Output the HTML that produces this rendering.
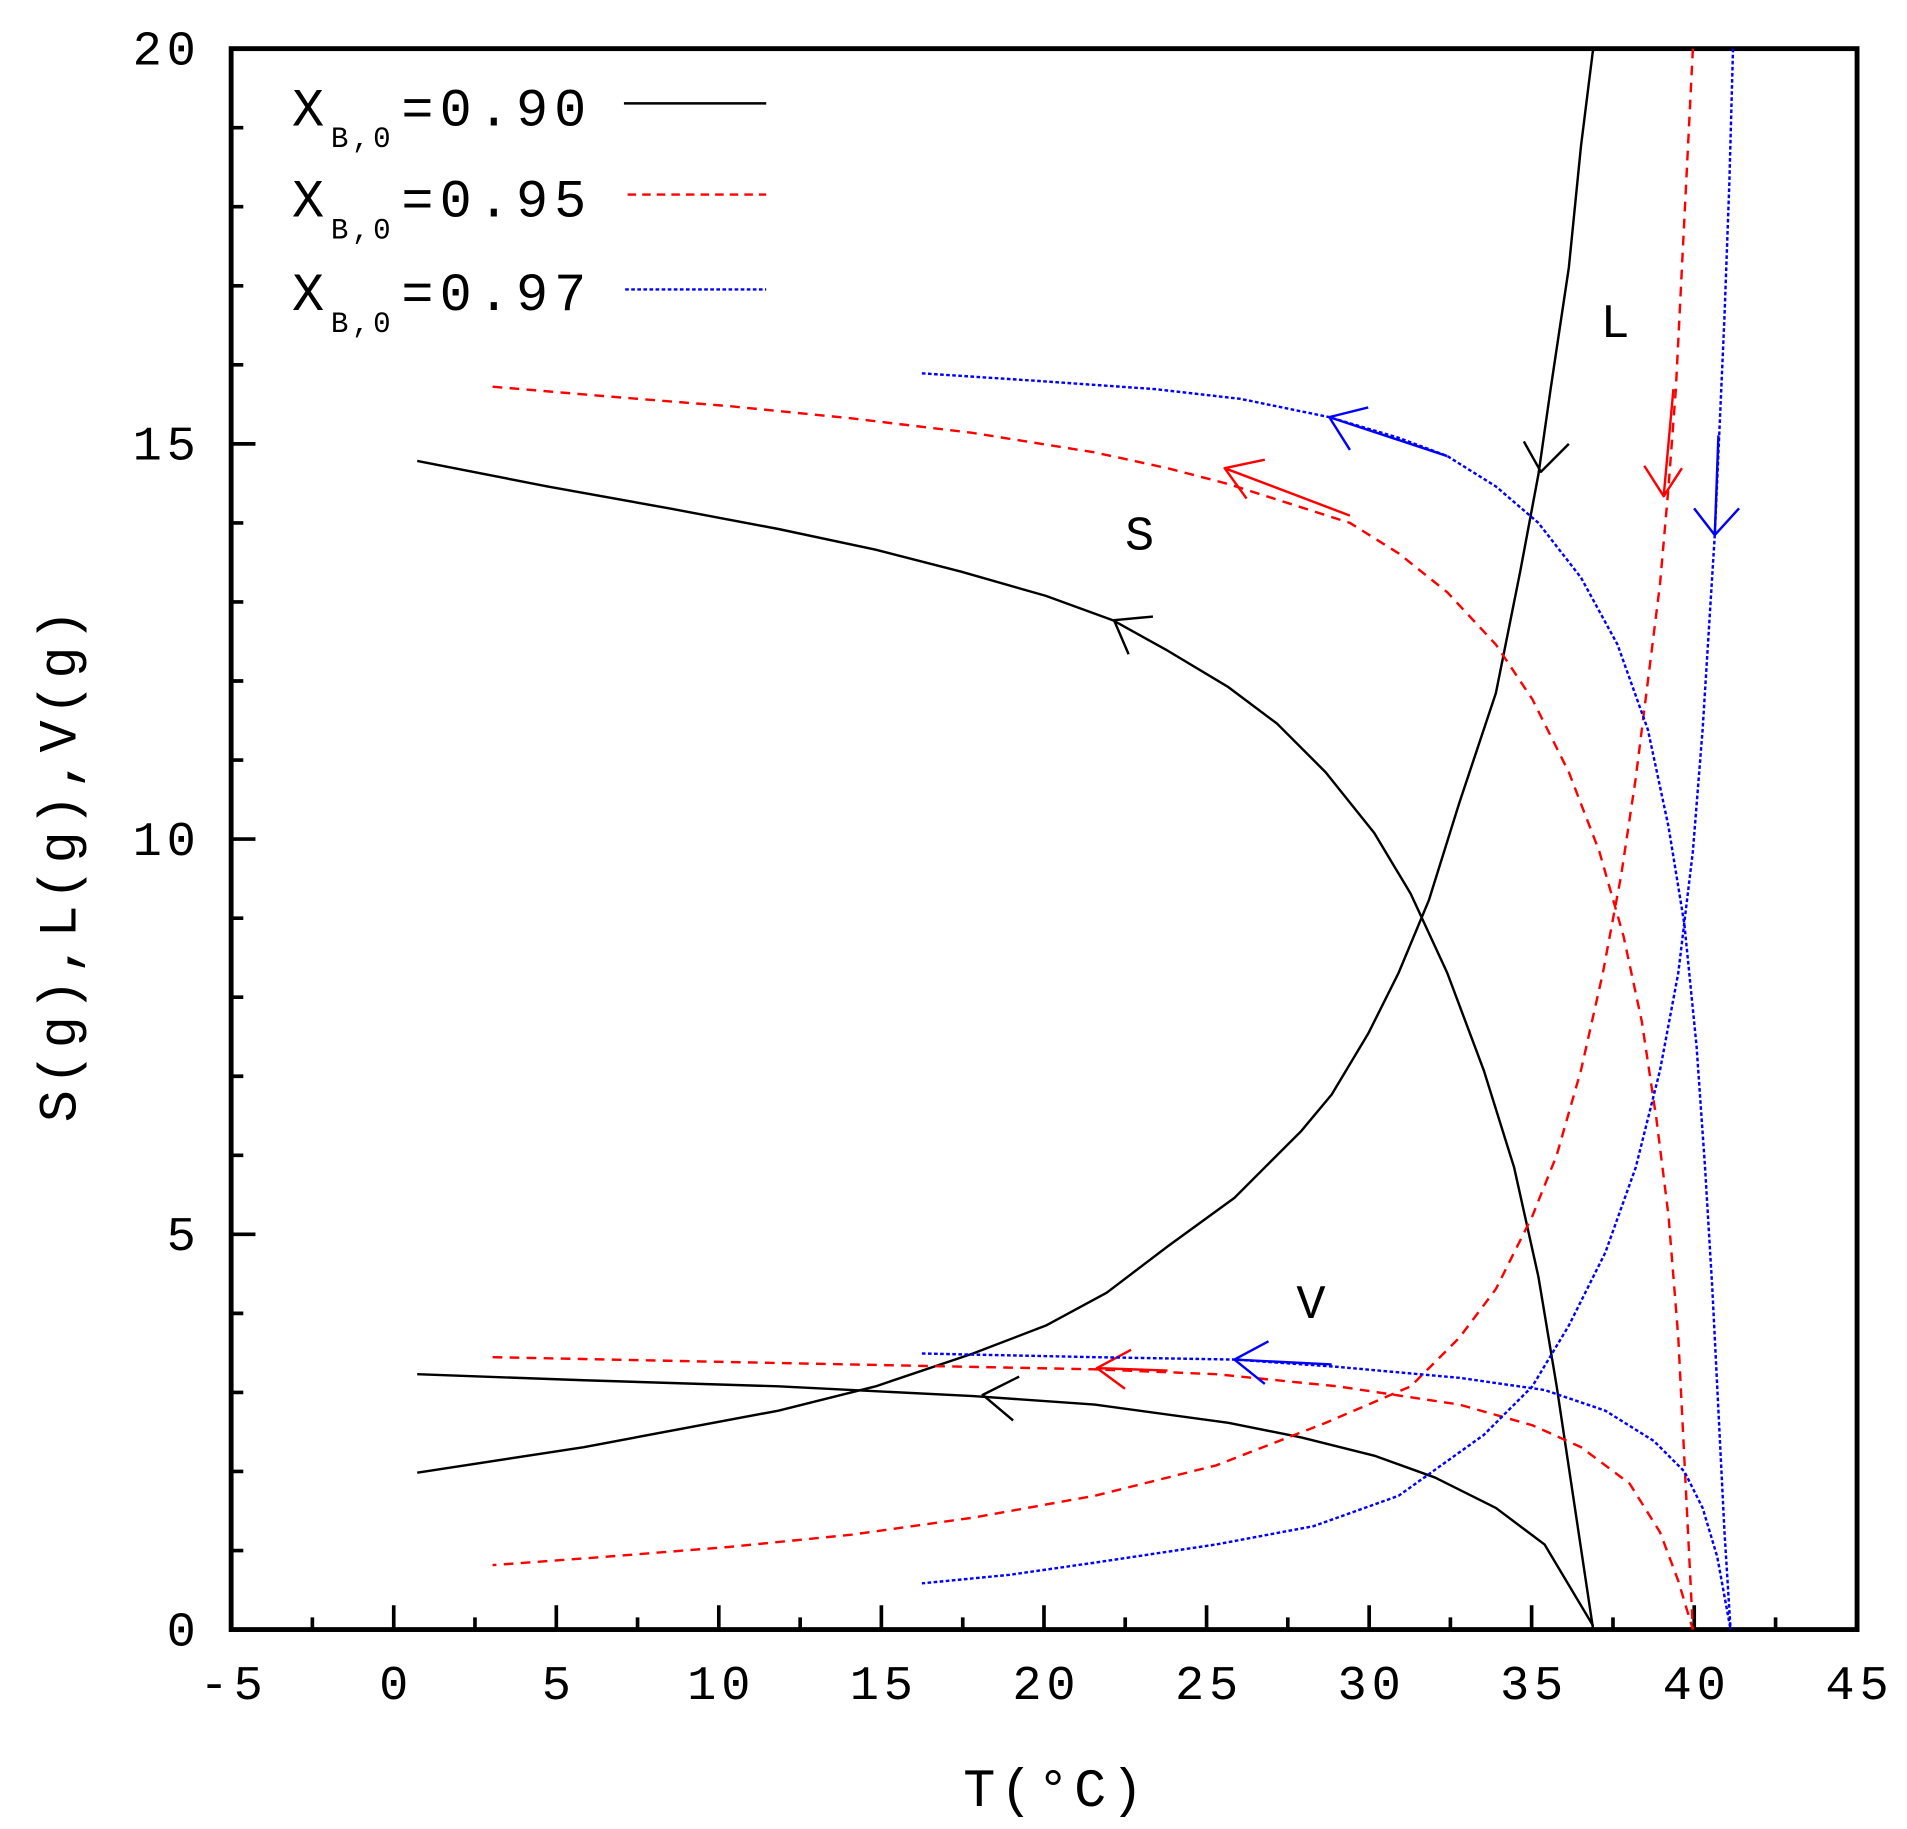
<!DOCTYPE html>
<html><head><meta charset="utf-8"><style>html,body{margin:0;padding:0;background:#fff}svg{display:block}</style></head>
<body>
<svg width="1907" height="1829" viewBox="0 0 1568 1504" xmlns="http://www.w3.org/2000/svg" font-family="Liberation Mono, monospace">
<rect width="1568" height="1504" fill="#fff"/>
<rect x="190" y="40" width="1337" height="1300" fill="none" stroke="#000" stroke-width="4"/>
<g stroke="#000" stroke-width="3">
<path d="M256.8 1340v-10M323.7 1340v-20M390.5 1340v-10M457.4 1340v-20M524.2 1340v-10M591 1340v-20M657.9 1340v-10M724.7 1340v-20M791.6 1340v-10M858.4 1340v-20M925.2 1340v-10M992.1 1340v-20M1058.9 1340v-10M1125.8 1340v-20M1192.6 1340v-10M1259.4 1340v-20M1326.3 1340v-10M1393.1 1340v-20M1460 1340v-10"/>
<path d="M190 1275h10M190 1210h10M190 1145h10M190 1080h10M190 1015h20M190 950h10M190 885h10M190 820h10M190 755h10M190 690h20M190 625h10M190 560h10M190 495h10M190 430h10M190 365h20M190 300h10M190 235h10M190 170h10M190 105h10"/>
</g>
<g font-size="40" fill="#000" letter-spacing="4">
<g text-anchor="middle">
<text x="192" y="1397">-5</text><text x="325.7" y="1397">0</text><text x="459.4" y="1397">5</text><text x="593" y="1397">10</text><text x="726.7" y="1397">15</text><text x="860.4" y="1397">20</text><text x="994.1" y="1397">25</text><text x="1127.8" y="1397">30</text><text x="1261.4" y="1397">35</text><text x="1395.1" y="1397">40</text><text x="1529" y="1397">45</text>
</g>
<g text-anchor="end">
<text x="165" y="1353">0</text><text x="165" y="1028">5</text><text x="165" y="703">10</text><text x="165" y="378">15</text><text x="165" y="53">20</text>
</g>
<text x="868" y="1485" text-anchor="middle" font-size="44">T(°C)</text>
<text transform="translate(62,710) rotate(-90)" text-anchor="middle" font-size="44">S(g),L(g),V(g)</text>
<text x="925" y="452">S</text><text x="1316" y="277">L</text><text x="1066" y="1084">V</text>
</g>
<g font-size="44" fill="#000">
<text x="240" y="103">X</text><text x="272" y="121" font-size="24" letter-spacing="3">B,0</text><text x="330" y="103" letter-spacing="5">=0.90</text>
<text x="240" y="178">X</text><text x="272" y="196" font-size="24" letter-spacing="3">B,0</text><text x="330" y="178" letter-spacing="5">=0.95</text>
<text x="240" y="255">X</text><text x="272" y="273" font-size="24" letter-spacing="3">B,0</text><text x="330" y="255" letter-spacing="5">=0.97</text>
</g>
<line x1="513" y1="85" x2="630" y2="85" stroke="#000" stroke-width="2"/>
<line x1="516" y1="160" x2="630" y2="160" stroke="#f00" stroke-width="2" stroke-dasharray="7,5"/>
<line x1="514" y1="238" x2="630" y2="238" stroke="#00f" stroke-width="2" stroke-dasharray="3,2"/>
<g fill="none" stroke-width="2" stroke-linejoin="round">
<g stroke="#000">
<polyline points="343,379 450,400 550,418 640,435 720,452 790,470 860,490 915,510 960,535 1010,565 1050,595 1090,635 1130,685 1160,735 1190,800 1220,880 1245,960 1265,1050 1280,1140 1295,1240 1310,1340"/>
<polyline points="1310,40 1300,120 1290,220 1275,320 1265,390 1250,470 1230,570 1200,660 1175,740 1150,800 1125,850 1095,900 1070,930 1040,960 1015,985 960,1025 910,1063 860,1090 800,1113 720,1140 640,1160 480,1190 343,1211"/>
<polyline points="343,1130 480,1135 640,1140 800,1148 900,1155 1010,1170 1070,1182 1130,1197 1180,1215 1230,1240 1270,1270 1310,1337"/>
<path d="M948,507 L916,510 L928,538 M1253,363 L1267,388 L1290,365 M838,1132 L808,1147 L833,1168"/>
</g>
<g stroke="#f00">
<g stroke-dasharray="8,6">
<polyline points="405,318 500,326 600,334 700,344 800,356 900,372 960,385 1010,398 1060,414 1110,430 1150,455 1190,487 1230,530 1260,575 1290,635 1315,700 1335,770 1350,840 1362,920 1372,1000 1380,1100 1385,1200 1392,1340"/>
<polyline points="1392,40 1388,120 1383,220 1378,320 1372,400 1365,480 1355,560 1345,640 1333,720 1318,800 1300,880 1280,950 1260,1000 1230,1060 1200,1100 1160,1140 1090,1170 1000,1205 900,1230 800,1248 700,1262 600,1272 500,1280 405,1287"/>
<polyline points="405,1116 600,1120 800,1124 900,1126 1000,1130 1100,1140 1200,1155 1260,1172 1300,1190 1340,1220 1365,1260 1380,1300 1392,1340"/>
</g>
<path d="M1040,378 L1007,385 L1025,410 M1007,385 L1110,424 M1352,383 L1368,408 L1383,385 M1368,408 L1376,320 M930,1110 L902,1125 L925,1142 M902,1125 L960,1127"/>
</g>
<g stroke="#00f">
<g stroke-dasharray="3,2">
<polyline points="758,307 850,313 950,320 1020,328 1093,343 1150,360 1190,375 1230,400 1265,430 1300,475 1330,530 1355,600 1372,680 1385,760 1395,860 1402,960 1408,1060 1413,1160 1418,1260 1423,1340"/>
<polyline points="1425,40 1422,150 1418,260 1414,350 1410,440 1405,520 1400,600 1392,700 1380,800 1365,880 1345,960 1320,1030 1290,1090 1260,1140 1220,1180 1150,1230 1080,1255 1000,1270 900,1285 830,1295 758,1302"/>
<polyline points="758,1113 900,1116 1016,1118 1100,1124 1200,1133 1270,1143 1320,1160 1360,1185 1385,1210 1400,1240 1412,1280 1423,1340"/>
</g>
<path d="M1125,335 L1093,343 L1110,370 M1093,343 L1190,375 M1393,418 L1410,440 L1430,418 M1410,440 L1413,358 M1043,1103 L1015,1118 L1040,1138 M1015,1118 L1095,1122"/>
</g>
</g>
</svg>
</body></html>
